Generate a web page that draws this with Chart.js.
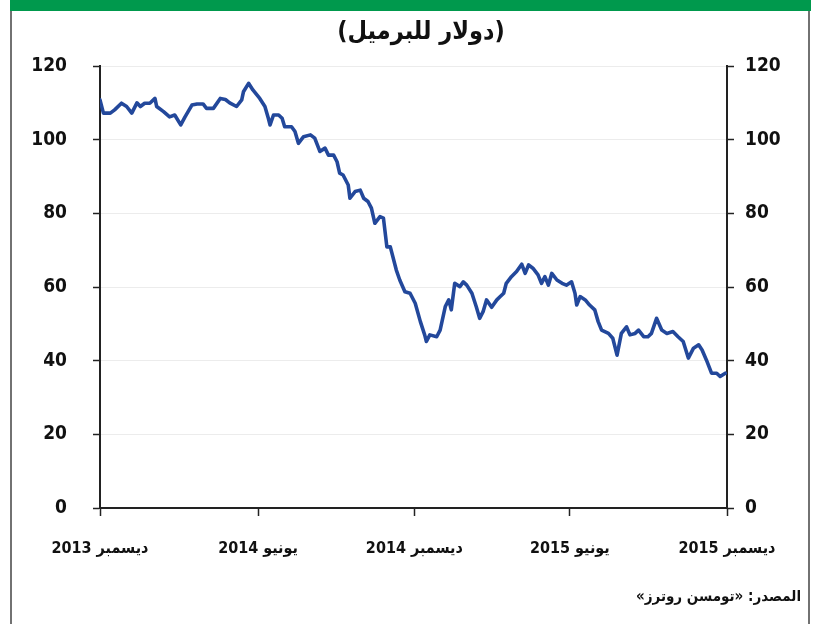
<!DOCTYPE html>
<html lang="ar">
<head>
<meta charset="utf-8">
<script src="https://cdn.jsdelivr.net/npm/chart.js@4.4.1/dist/chart.umd.min.js"></script>
<style>
  html, body { margin: 0; padding: 0; background: #fff; }
  #wrap { position: relative; width: 813px; height: 624px; }
</style>
</head>
<body>
<div id="wrap"><canvas id="chart" dir="rtl" width="813" height="624"></canvas></div>
<script>
// ============================================================
// Brent crude, Dec 2013 – Dec 2015 (dollars per barrel)
// ============================================================

// days since start of Dec 2013
const days = [0, 4, 12, 17, 25, 31, 37, 43, 47, 52,
  58, 64, 66, 74, 81, 87, 94, 99, 107, 113,
  120, 124, 132, 140, 146, 151, 159, 165, 167, 173,
  178, 186, 192, 196, 198, 202, 208, 212, 215, 223,
  227, 231, 237, 245, 250, 256, 262, 266, 272, 276,
  279, 283, 289, 291, 297, 303, 307, 312, 316, 320,
  326, 330, 334, 338, 345, 349, 355, 361, 367, 373,
  378, 380, 384, 392, 396, 402, 406, 409, 413, 419,
  423, 427, 433, 438, 442, 446, 450, 456, 462, 466,
  470, 473, 479, 485, 491, 495, 499, 504, 510, 514,
  518, 522, 526, 532, 538, 543, 549, 553, 555, 559,
  565, 570, 576, 580, 584, 592, 597, 602, 607, 613,
  617, 623, 627, 633, 638, 642, 648, 654, 660, 667,
  673, 679, 685, 691, 697, 701, 706, 712, 718, 722,
  728];

const brent = [110.8, 107.2, 107.2, 108.1, 109.9, 109.0, 107.2, 110.0, 109.0, 109.9,
  109.9, 111.2, 109.0, 107.6, 106.2, 106.7, 104.0, 106.2, 109.4, 109.7,
  109.7, 108.5, 108.5, 111.2, 110.9, 110.0, 109.0, 110.8, 113.0, 115.3,
  113.5, 111.2, 109.0, 105.8, 104.0, 106.7, 106.7, 105.8, 103.5, 103.5,
  102.2, 99.0, 100.8, 101.3, 100.4, 96.8, 97.7, 95.8, 95.8, 94.0,
  90.9, 90.4, 87.7, 84.1, 85.9, 86.3, 84.1, 83.2, 81.4, 77.3,
  79.1, 78.7, 70.9, 70.9, 64.6, 61.9, 58.7, 58.3, 55.6, 50.6,
  47.0, 45.2, 47.0, 46.5, 48.3, 54.7, 56.5, 53.8, 61.0, 60.1,
  61.4, 60.5, 58.3, 54.7, 51.5, 53.3, 56.5, 54.5, 56.5, 57.4,
  58.3, 61.0, 62.8, 64.2, 66.2, 63.7, 66.0, 65.1, 63.3, 61.0,
  62.8, 60.5, 63.7, 61.9, 61.0, 60.5, 61.4, 58.3, 55.1, 57.4,
  56.5, 55.1, 53.8, 50.6, 48.3, 47.4, 46.1, 41.5, 47.4, 49.2,
  47.0, 47.4, 48.3, 46.5, 46.5, 47.4, 51.5, 48.3, 47.4, 47.9,
  46.5, 45.2, 40.7, 43.4, 44.3, 42.9, 40.2, 36.6, 36.6, 35.7,
  36.6];

const xTickDays = [0, 184, 366, 547, 730];
const xTickLabels = ["ديسمبر 2013", "يونيو 2014", "ديسمبر 2014", "يونيو 2015", "ديسمبر 2015"];

const subtitle = "(دولار للبرميل)";
const sourceNote = "المصدر: «تومسن روترز»";

// Shared styling
const FONT = "'DejaVu Sans Condensed', 'DejaVu Sans', sans-serif";
const INK = "#111";
const AXIS = "#222";

// frame, green band and the texts around the plot
const frame = {
  id: "frame",
  beforeDraw(chart) {
    const c = chart.ctx;
    c.save();
    c.fillStyle = "#fff";
    c.fillRect(0, 0, chart.width, chart.height);
    c.fillStyle = "#00994d";
    c.fillRect(10, 0, 801, 11);
    c.strokeStyle = "#444";
    c.lineWidth = 1.5;
    c.beginPath();
    c.moveTo(11, 11); c.lineTo(11, chart.height);
    c.moveTo(809, 11); c.lineTo(809, chart.height);
    c.stroke();
    c.restore();
  },
  afterDraw(chart) {
    const c = chart.ctx;
    c.save();
    c.direction = "rtl";
    c.fillStyle = INK;
    c.textBaseline = "middle";
    c.textAlign = "center";
    c.font = `bold 25px ${FONT}`;
    c.fillText(subtitle, 421, 32);
    c.textAlign = "right";
    c.font = `bold 15px ${FONT}`;
    c.fillText(sourceNote, 801, 597);
    c.restore();
  }
};

const tickFont = { family: FONT, size: 19, weight: "bold" };

new Chart(document.getElementById("chart"), {
  type: "line",
  data: {
    datasets: [{
      data: days.map((d, i) => ({ x: d, y: brent[i] })),
      borderColor: "#23489b",
      borderWidth: 3.6,
      pointRadius: 0,
      tension: 0,
      borderJoinStyle: "round",
      borderCapStyle: "round",
      yAxisID: "y"
    }]
  },
  options: {
    responsive: false,
    animation: false,
    layout: { padding: { top: 66, left: 0, right: 0, bottom: 0 } },
    plugins: { legend: { display: false }, tooltip: { enabled: false } },
    scales: {
      x: {
        type: "linear", min: 0, max: 730,
        afterBuildTicks: s => { s.ticks = xTickDays.map(v => ({ value: v })); },
        afterFit: s => { s.height = 116; },
        ticks: {
          callback: (v, i) => xTickLabels[i],
          font: { family: FONT, size: 16, weight: "bold" },
          color: INK, padding: 23, maxRotation: 0, autoSkip: false
        },
        grid: { drawOnChartArea: false, drawTicks: true, tickLength: 8, tickColor: AXIS, tickWidth: 1.5 },
        border: { color: AXIS, width: 2 }
      },
      y: {
        position: "left", min: 0, max: 120,
        afterFit: s => { s.width = 100; },
        ticks: { stepSize: 20, font: tickFont, color: INK, padding: 26 },
        grid: { color: "#ececec", lineWidth: 1, tickColor: AXIS, tickLength: 7, tickWidth: 1.5 },
        border: { color: AXIS, width: 2 }
      },
      y2: {
        position: "right", min: 0, max: 120,
        afterFit: s => { s.width = 86; },
        ticks: { stepSize: 20, font: tickFont, color: INK, padding: 11 },
        grid: { drawOnChartArea: false, tickColor: AXIS, tickLength: 7, tickWidth: 1.5 },
        border: { color: AXIS, width: 2 }
      }
    }
  },
  plugins: [frame]
});
</script>
</body>
</html>
